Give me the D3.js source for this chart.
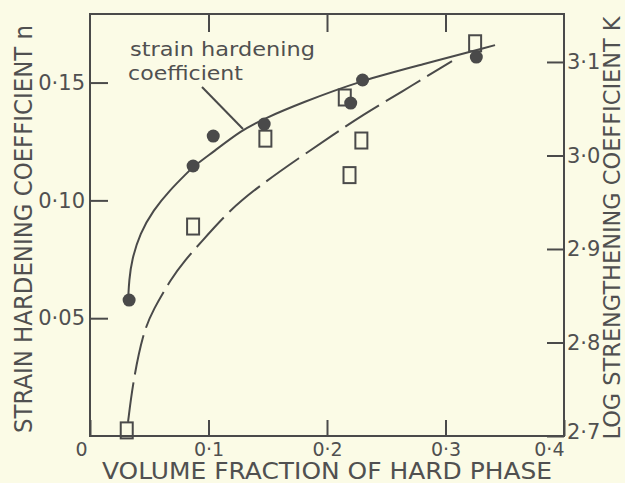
<!DOCTYPE html>
<html>
<head>
<meta charset="utf-8">
<title>Strain hardening vs volume fraction</title>
<script src="https://d3js.org/d3.v7.min.js"></script>
<style>
  body { margin: 0; background: #fbfbe6; }
  svg { display: block; }
  .ink { stroke: #4a4a4a; }
  text { fill: #505050; font-family: "DejaVu Sans", sans-serif; }
</style>
</head>
<body>
<div id="chart"></div>
<script>
// measured points, filled circles -> strain hardening coefficient n (left axis)
var nFraction = [0.033, 0.087, 0.104, 0.147, 0.220, 0.230, 0.326];
var nValue    = [0.0577, 0.1146, 0.1273, 0.1324, 0.1413, 0.1511, 0.1608];

// open squares -> log strengthening coefficient K (right axis)
var kFraction = [0.031, 0.087, 0.148, 0.215, 0.229, 0.219, 0.325];
var kValue    = [2.706, 2.924, 3.018, 3.062, 3.016, 2.979, 3.120];

// solid curve (n) as drawn
var nCurveX = [0.0323, 0.0330, 0.0352, 0.0422, 0.0534, 0.0675, 0.0816, 0.0878, 0.1041, 0.1280, 0.1462, 0.1772, 0.2304, 0.2785, 0.3418];
var nCurveY = [0.0591, 0.0660, 0.0747, 0.0860, 0.0959, 0.1044, 0.1115, 0.1146, 0.1206, 0.1298, 0.1345, 0.1412, 0.1511, 0.1574, 0.1659];

// dashed curve (K) as drawn
var kCurveX = [0.0321, 0.0363, 0.0447, 0.0532, 0.0689, 0.0802, 0.0928, 0.1181, 0.1435, 0.1772, 0.2051, 0.2295, 0.2616, 0.3055];
var kCurveY = [2.715, 2.758, 2.810, 2.835, 2.869, 2.888, 2.906, 2.942, 2.968, 2.998, 3.022, 3.043, 3.067, 3.101];

var xTicks = [0, 0.1, 0.2, 0.3, 0.4];
var xTickLabels = ["0", "0·1", "0·2", "0·3", "0·4"];
var nTicks = [0.05, 0.10, 0.15];
var nTickLabels = ["0·05", "0·10", "0·15"];
var kTicks = [2.7, 2.8, 2.9, 3.0, 3.1];
var kTickLabels = ["2·7", "2·8", "2·9", "3·0", "3·1"];

var W = 625, H = 483;
var pl = 90, pr = 564, pt = 14, pb = 436;

var svg = d3.select("#chart").append("svg").attr("width", W).attr("height", H);

var x = d3.scaleLinear().domain([0, 0.4]).range([pl, pr]);
var yN = d3.scaleLinear().domain([0, 0.1791]).range([pb, pt]);
var yK = d3.scaleLinear().domain([2.7, 3.1513]).range([pb, pt]);

// frame
svg.append("rect").attr("class", "ink")
  .attr("x", pl).attr("y", pt).attr("width", pr - pl).attr("height", pb - pt)
  .attr("fill", "none").attr("stroke-width", 2);

// axes with inward ticks
var gx = svg.append("g").attr("transform", "translate(0," + pb + ")")
  .call(d3.axisBottom(x).tickValues(xTicks).tickSize(-16).tickPadding(20)
    .tickFormat(function(d, i) { return xTickLabels[i]; }));
svg.append("g").attr("transform", "translate(0," + pt + ")")
  .call(d3.axisTop(x).tickValues([0.1, 0.2, 0.3]).tickSize(-18).tickFormat(""));
var gl = svg.append("g").attr("transform", "translate(" + pl + ",0)")
  .call(d3.axisLeft(yN).tickValues(nTicks).tickSize(-18).tickPadding(5)
    .tickFormat(function(d, i) { return nTickLabels[i]; }));
var gr = svg.append("g").attr("transform", "translate(" + pr + ",0)")
  .call(d3.axisRight(yK).tickValues(kTicks).tickSize(-17).tickPadding(3)
    .tickFormat(function(d, i) { return kTickLabels[i]; }));

svg.selectAll(".domain").remove();
svg.selectAll(".tick line").attr("stroke", "#4a4a4a").attr("stroke-width", 2);
svg.selectAll(".tick text").attr("fill", "#505050").attr("font-family", "DejaVu Sans, sans-serif");
gx.selectAll(".tick text").attr("dy", 0).attr("font-size", 19);
gx.selectAll(".tick text").filter(function(d) { return d === 0; }).attr("dx", -9);
gx.selectAll(".tick text").filter(function(d) { return d === 0.4; }).attr("text-anchor", "end");
gl.selectAll(".tick text").attr("font-size", 21);
gr.selectAll(".tick text").attr("font-size", 21);
gr.selectAll(".tick text").filter(function(d) { return d === 2.7; }).attr("dy", "0.1em");

// curves
var nLine = d3.line().curve(d3.curveBasis)
  .x(function(d, i) { return x(nCurveX[i]); })
  .y(function(d, i) { return yN(nCurveY[i]); });
svg.append("path").attr("class", "ink").attr("d", nLine(nCurveX))
  .attr("fill", "none").attr("stroke-width", 2);

var kLine = d3.line().curve(d3.curveBasis)
  .x(function(d, i) { return x(kCurveX[i]); })
  .y(function(d, i) { return yK(kCurveY[i]); });
svg.append("path").attr("class", "ink").attr("d", kLine(kCurveX))
  .attr("fill", "none").attr("stroke-width", 2).attr("stroke-dasharray", "40,8");

// markers
svg.selectAll("rect.sq").data(kFraction).enter().append("rect").attr("class", "sq ink")
  .attr("x", function(d) { return x(d) - 6; })
  .attr("y", function(d, i) { return yK(kValue[i]) - 8; })
  .attr("width", 12).attr("height", 16)
  .attr("fill", "none").attr("stroke-width", 2);

svg.selectAll("circle.dot").data(nFraction).enter().append("circle").attr("class", "dot")
  .attr("cx", function(d) { return x(d); })
  .attr("cy", function(d, i) { return yN(nValue[i]); })
  .attr("r", 6.5).attr("fill", "#4a4a4a");

// annotation
svg.append("text").attr("x", 130).attr("y", 56).attr("font-size", 19)
  .attr("textLength", 185).attr("lengthAdjust", "spacingAndGlyphs").text("strain hardening");
svg.append("text").attr("x", 128).attr("y", 80).attr("font-size", 19)
  .attr("textLength", 115).attr("lengthAdjust", "spacingAndGlyphs").text("coefficient");
svg.append("line").attr("class", "ink").attr("x1", 202).attr("y1", 87).attr("x2", 243).attr("y2", 129)
  .attr("stroke-width", 2);

// axis titles
svg.append("text").attr("x", 327).attr("y", 479).attr("font-size", 23).attr("text-anchor", "middle")
  .attr("textLength", 450).attr("lengthAdjust", "spacingAndGlyphs").text("VOLUME FRACTION OF HARD PHASE");
svg.append("text").attr("transform", "translate(32,229) rotate(-90)").attr("font-size", 24)
  .attr("text-anchor", "middle").attr("textLength", 408).attr("lengthAdjust", "spacingAndGlyphs")
  .text("STRAIN HARDENING COEFFICIENT n");
svg.append("text").attr("transform", "translate(620,228) rotate(-90)").attr("font-size", 23)
  .attr("text-anchor", "middle").attr("textLength", 423).attr("lengthAdjust", "spacingAndGlyphs")
  .text("LOG STRENGTHENING COEFFICIENT K");
</script>
</body>
</html>
